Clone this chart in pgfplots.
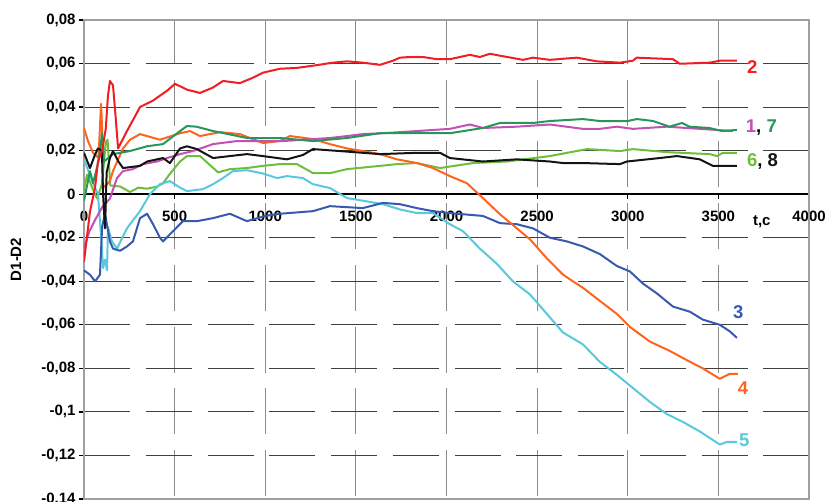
\documentclass[border=0pt]{standalone}
\usepackage{fontspec}
\setmainfont{Liberation Sans}
\usepackage{pgfplots}
\pgfplotsset{compat=1.18}
\definecolor{c1}{RGB}{195,80,180}
\definecolor{c2}{RGB}{240,30,35}
\definecolor{c3}{RGB}{55,90,175}
\definecolor{c4}{RGB}{255,100,30}
\definecolor{c5}{RGB}{90,200,220}
\definecolor{c6}{RGB}{110,190,60}
\definecolor{c7}{RGB}{40,150,90}
\definecolor{c8}{RGB}{20,20,20}
\begin{document}
\begin{tikzpicture}
\begin{axis}[
  scale only axis, width=725pt, height=479pt,
  xmin=0, xmax=4000, ymin=-0.14, ymax=0.08,
  axis x line=middle, axis y line=left,
  hide obscured x ticks=false,
  axis line style={-, line width=2.4pt, black},
  xtick={0,500,1000,1500,2000,2500,3000,3500,4000},
  xticklabels={0,500,1000,1500,2000,2500,3000,3500,4000},
  ytick={-0.14,-0.12,-0.1,-0.08,-0.06,-0.04,-0.02,0,0.02,0.04,0.06,0.08},
  yticklabels={{-0,14},{-0,12},{-0,1},{-0,08},{-0,06},{-0,04},{-0,02},0,{0,02},{0,04},{0,06},{0,08}},
  tick align=outside, major tick length=5pt, tick style={black, line width=1.2pt},
  grid=major,
  x grid style={gray!90, line width=1.2pt, dash pattern=on 46pt off 15.75pt, dash phase=59pt},
  y grid style={black!75, line width=0.9pt, dash pattern=on 46pt off 15.75pt, dash phase=0pt},
  ticklabel style={font=\fontsize{15}{18}\selectfont\bfseries},
  xticklabel style={yshift=-8pt},
  clip mode=individual,
  every axis plot/.append style={line width=2pt, line join=round},
]
\draw[gray!75, line width=1.2pt] (rel axis cs:0,0) rectangle (rel axis cs:1,1);
\coordinate (bl) at (rel axis cs:0,0);
\coordinate (tr) at (rel axis cs:1,1);
\coordinate (ml) at (rel axis cs:0,0.5);

% 6 light green
\addplot[c6] coordinates {(0,0.002) (17,0.009) (45,0.003) (72,-0.002) (100,0.005) (120,0.024) (130,0.025) (145,0.004) (200,0.0035) (254,0.001) (300,0.003) (348,0.0025) (403,0.0035) (436,0.005) (480,0.010) (530,0.015) (568,0.0175) (640,0.0175) (700,0.013) (740,0.010) (805,0.0115) (899,0.012) (987,0.013) (1081,0.0138) (1175,0.0138) (1263,0.0097) (1360,0.0097) (1451,0.0115) (1633,0.013) (1727,0.0138) (1837,0.0143) (1964,0.012) (2146,0.0143) (2333,0.015) (2570,0.0175) (2775,0.0207) (2957,0.0198) (3028,0.0207) (3216,0.0193) (3453,0.0184) (3492,0.0175) (3525,0.019) (3602,0.019)};
% 5 cyan
\addplot[c5] coordinates {(0,0.016) (50,0.005) (77,0.000) (95,-0.020) (105,-0.034) (116,-0.030) (127,-0.035) (132,-0.015) (154,-0.0217) (182,-0.025) (237,-0.0157) (309,-0.0078) (364,0.000) (419,0.0046) (474,0.006) (530,0.003) (568,0.0014) (656,0.0023) (712,0.0046) (767,0.0074) (822,0.0106) (899,0.011) (987,0.0095) (1065,0.0074) (1120,0.0083) (1208,0.0074) (1263,0.0046) (1357,0.0028) (1451,-0.0018) (1539,-0.003) (1649,-0.0046) (1743,-0.007) (1837,-0.0087) (1925,-0.0087) (2019,-0.0138) (2091,-0.017) (2184,-0.025) (2278,-0.032) (2366,-0.040) (2460,-0.046) (2554,-0.055) (2642,-0.0635) (2753,-0.069) (2846,-0.077) (2940,-0.083) (3028,-0.089) (3122,-0.0954) (3216,-0.101) (3304,-0.1046) (3398,-0.109) (3508,-0.115) (3547,-0.1138) (3602,-0.1138)};
% 3 blue
\addplot[c3] coordinates {(0,-0.035) (33,-0.037) (61,-0.040) (88,-0.037) (100,-0.015) (116,-0.009) (143,-0.0217) (160,-0.025) (199,-0.026) (237,-0.024) (270,-0.0217) (309,-0.011) (348,-0.009) (381,-0.0138) (419,-0.020) (436,-0.0217) (491,-0.017) (546,-0.0124) (623,-0.0124) (712,-0.011) (805,-0.009) (899,-0.0124) (1000,-0.010) (1081,-0.009) (1263,-0.0078) (1357,-0.0055) (1539,-0.0064) (1649,-0.004) (1743,-0.0046) (1837,-0.0064) (1925,-0.0078) (2019,-0.0087) (2201,-0.010) (2295,-0.0133) (2388,-0.0138) (2477,-0.0157) (2570,-0.020) (2664,-0.0217) (2753,-0.024) (2846,-0.0275) (2940,-0.033) (3012,-0.0355) (3083,-0.041) (3161,-0.0456) (3249,-0.0516) (3343,-0.054) (3414,-0.0576) (3508,-0.060) (3563,-0.063) (3602,-0.066)};
% 4 orange
\addplot[c4] coordinates {(0,0.0304) (22,0.0244) (50,0.019) (80,0.0166) (94,0.0415) (100,0.03) (105,0.003) (143,0.006) (160,0.0106) (215,0.021) (254,0.025) (309,0.0276) (419,0.025) (530,0.028) (585,0.029) (640,0.0267) (750,0.0285) (860,0.0276) (987,0.0235) (1081,0.0244) (1136,0.0267) (1263,0.0253) (1357,0.023) (1451,0.021) (1539,0.0198) (1633,0.0184) (1727,0.016) (1837,0.0143) (1925,0.012) (2019,0.0083) (2113,0.005) (2201,-0.0018) (2295,-0.0092) (2388,-0.0157) (2460,-0.0207) (2554,-0.0295) (2642,-0.0369) (2697,-0.040) (2753,-0.043) (2846,-0.049) (2940,-0.055) (3012,-0.061) (3122,-0.0677) (3232,-0.072) (3343,-0.077) (3414,-0.080) (3508,-0.0848) (3563,-0.0825) (3607,-0.0825)};
% 1 magenta
\addplot[c1] coordinates {(0,-0.025) (30,-0.017) (60,-0.012) (100,-0.006) (143,-0.002) (182,0.0074) (215,0.0106) (270,0.0115) (325,0.0138) (403,0.015) (458,0.0166) (530,0.0184) (601,0.0198) (712,0.023) (844,0.0244) (987,0.0244) (1100,0.0244) (1263,0.0253) (1357,0.0258) (1451,0.0267) (1539,0.0276) (1649,0.028) (1837,0.029) (2019,0.030) (2129,0.032) (2201,0.0304) (2388,0.031) (2570,0.032) (2753,0.030) (2846,0.030) (2940,0.031) (3028,0.030) (3216,0.031) (3398,0.030) (3580,0.029)};
% 7 teal
\addplot[c7] coordinates {(0,-0.003) (33,0.0106) (50,0.005) (80,0.015) (100,0.028) (110,0.015) (160,0.0184) (253,0.0198) (348,0.022) (436,0.023) (530,0.029) (568,0.0313) (620,0.031) (712,0.029) (900,0.0258) (1081,0.0258) (1263,0.0244) (1451,0.0258) (1633,0.028) (1800,0.028) (2019,0.028) (2201,0.0304) (2295,0.0327) (2477,0.0327) (2570,0.0336) (2753,0.0345) (2846,0.0336) (3000,0.0336) (3050,0.0345) (3140,0.0336) (3230,0.031) (3300,0.0327) (3340,0.031) (3450,0.0304) (3520,0.029) (3602,0.0295)};
% 8 black
\addplot[c8] coordinates {(0,0.019) (33,0.012) (60,0.018) (77,0.021) (99,0.020) (105,0.000) (116,-0.0157) (125,0.010) (143,0.0166) (160,0.0198) (190,0.015) (215,0.012) (309,0.013) (348,0.015) (436,0.0166) (474,0.0143) (530,0.021) (568,0.022) (623,0.0207) (712,0.0166) (805,0.0175) (899,0.0184) (987,0.0175) (1120,0.016) (1208,0.018) (1263,0.0207) (1412,0.0198) (1633,0.0184) (1837,0.019) (1964,0.019) (2019,0.0166) (2201,0.015) (2388,0.016) (2570,0.015) (2642,0.0143) (2753,0.0143) (2957,0.0138) (2995,0.015) (3177,0.0166) (3271,0.0175) (3398,0.016) (3470,0.013) (3602,0.013)};
% 2 red
\addplot[c2] coordinates {(0,-0.031) (33,-0.008) (61,0.003) (77,0.015) (100,0.02) (120,0.03) (132,0.045) (143,0.052) (160,0.05) (175,0.035) (188,0.021) (237,0.029) (270,0.034) (309,0.040) (381,0.043) (458,0.0475) (502,0.0507) (568,0.048) (640,0.0465) (712,0.049) (767,0.052) (860,0.051) (932,0.0535) (987,0.0558) (1081,0.0576) (1175,0.058) (1263,0.059) (1373,0.0604) (1451,0.061) (1539,0.0604) (1633,0.0594) (1704,0.0613) (1743,0.0627) (1798,0.063) (1870,0.063) (1947,0.062) (2019,0.062) (2129,0.064) (2184,0.063) (2240,0.0645) (2295,0.0636) (2422,0.0617) (2477,0.0627) (2570,0.0617) (2719,0.0627) (2830,0.061) (2957,0.0604) (3028,0.0613) (3050,0.0627) (3249,0.062) (3287,0.0599) (3453,0.0604) (3508,0.0613) (3602,0.0613)};

\begin{scope}[every node/.style={anchor=base west, inner sep=0pt, font=\fontsize{18.5}{20}\selectfont\bfseries}]
\node at (axis cs:3657,0.0553) {\textcolor{c2}{2}};
\node at (axis cs:3651,0.0281) {\textcolor{c1}{1}, \textcolor{c7}{7}};
\node at (axis cs:3657,0.0129) {\textcolor{c6}{6}, \textcolor{c8}{8}};
\node at (axis cs:3580,-0.0571) {\textcolor{c3}{3}};
\node at (axis cs:3607,-0.0922) {\textcolor{c4}{4}};
\node at (axis cs:3613,-0.1157) {\textcolor{c5}{5}};
\end{scope}
\node[anchor=base west, inner sep=0pt, font=\fontsize{15}{18}\selectfont\bfseries] at (axis cs:3690,-0.0143) {t,c};
\end{axis}
\node[rotate=90, font=\fontsize{15}{18}\selectfont\bfseries] at ([xshift=-68pt]ml) {D1-D2};
\pgfresetboundingbox
\path[use as bounding box] ([xshift=-84pt,yshift=-3pt]bl) rectangle ([xshift=18pt,yshift=20pt]tr);
\end{tikzpicture}
\end{document}
